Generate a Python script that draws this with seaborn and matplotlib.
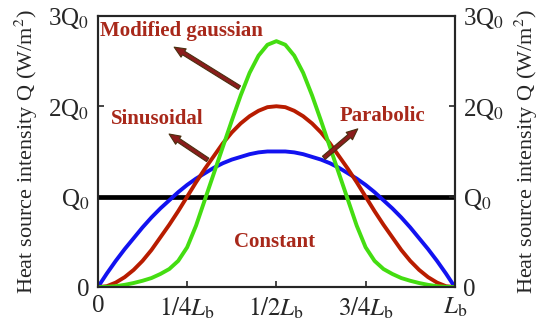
import seaborn as sns, matplotlib.pyplot as plt
import pandas as pd

# position along the weld (fraction of L_b)
x_pos = [0.0, 0.025, 0.05, 0.075, 0.1, 0.125, 0.15, 0.175, 0.2, 0.225, 0.25,
         0.275, 0.3, 0.325, 0.35, 0.375, 0.4, 0.425, 0.45, 0.475, 0.5,
         0.525, 0.55, 0.575, 0.6, 0.625, 0.65, 0.675, 0.7, 0.725, 0.75,
         0.775, 0.8, 0.825, 0.85, 0.875, 0.9, 0.925, 0.95, 0.975, 1.0]

# heat source intensity (multiples of Q0)
parabolic = [0.0, 0.15, 0.29, 0.42, 0.54, 0.66, 0.77, 0.87, 0.96, 1.05, 1.13,
             1.20, 1.26, 1.32, 1.37, 1.41, 1.44, 1.47, 1.49, 1.50, 1.50,
             1.50, 1.49, 1.47, 1.44, 1.41, 1.37, 1.32, 1.26, 1.20, 1.13,
             1.05, 0.96, 0.87, 0.77, 0.66, 0.54, 0.42, 0.29, 0.15, 0.0]
sinusoidal = [0.0, 0.01, 0.05, 0.11, 0.19, 0.29, 0.41, 0.55, 0.69, 0.84, 1.0,
              1.16, 1.31, 1.45, 1.59, 1.71, 1.81, 1.89, 1.95, 1.99, 2.0,
              1.99, 1.95, 1.89, 1.81, 1.71, 1.59, 1.45, 1.31, 1.16, 1.0,
              0.84, 0.69, 0.55, 0.41, 0.29, 0.19, 0.11, 0.05, 0.01, 0.0]
gaussian = [0.0, 0.003, 0.01, 0.025, 0.045, 0.07, 0.10, 0.145, 0.20, 0.29, 0.44,
            0.68, 0.97, 1.26, 1.55, 1.84, 2.12, 2.37, 2.56, 2.68, 2.72,
            2.68, 2.56, 2.37, 2.12, 1.84, 1.55, 1.26, 0.97, 0.68, 0.44,
            0.29, 0.20, 0.145, 0.10, 0.07, 0.045, 0.025, 0.01, 0.003, 0.0]
const_x = [0.0, 1.0]
constant = [1.0, 1.0]

x_ticks = [0, 0.25, 0.5, 0.75, 1.0]
x_labels = ['0', r'$1/4L_{\rm b}$', r'$1/2L_{\rm b}$', r'$3/4L_{\rm b}$', r'$L_{\rm b}$']
y_ticks = [0, 1, 2, 3]
y_labels = ['0', r'Q$_0$', r'2Q$_0$', r'3Q$_0$']

sns.set_style('ticks')
plt.rcParams['font.family'] = ['Liberation Serif', 'DejaVu Serif']
plt.rcParams['mathtext.fontset'] = 'stix'
plt.rcParams['xtick.direction'] = 'in'
plt.rcParams['ytick.direction'] = 'in'

fig = plt.figure(figsize=(5.5, 3.3), dpi=100)
ax = fig.add_axes([0.178, 0.130, 0.649, 0.822])

sns.lineplot(x=const_x, y=constant, color='black', lw=3.4, ax=ax)
sns.lineplot(x=x_pos, y=parabolic, color='#1212f0', lw=2.8, ax=ax)
sns.lineplot(x=x_pos, y=sinusoidal, color='#b81c00', lw=2.8, ax=ax)
sns.lineplot(x=x_pos, y=gaussian, color='#44dd11', lw=2.8, ax=ax)

ax.set_xlim(0, 1)
ax.set_ylim(0, 3)
ax.set_xticks(x_ticks)
ax.set_xticklabels(x_labels, fontsize=18)
ax.set_yticks(y_ticks)
ax.set_yticklabels(y_labels, fontsize=18)
ax.tick_params(length=4, width=1.2, pad=6)
ax.set_ylabel('Heat source intensity Q (W/m$^2$)', fontsize=16, labelpad=6)
for s in ax.spines.values():
    s.set_linewidth(1.5)

ax2 = ax.twinx()
ax2.set_ylim(0, 3)
ax2.set_yticks(y_ticks)
ax2.set_yticklabels(y_labels, fontsize=18)
ax2.tick_params(length=4, width=1.2, pad=6, direction='in')
ax2.set_ylabel('Heat source intensity Q (W/m$^2$)', fontsize=16, labelpad=6)
for s in ax2.spines.values():
    s.set_linewidth(1.5)

lab_col = '#a8281a'
arrow = dict(arrowstyle='simple,head_width=0.7,head_length=0.8,tail_width=0.3',
             fc='#8b1c1c', ec='#4a3010', lw=0.8)
ax.annotate('', xy=(0.207, 2.67), xytext=(0.403, 2.19), arrowprops=arrow)
ax.annotate('', xy=(0.193, 1.71), xytext=(0.314, 1.39), arrowprops=arrow)
ax.annotate('', xy=(0.734, 1.77), xytext=(0.627, 1.41), arrowprops=arrow)

ax.text(0.235, 2.83, 'Modified gaussian', color=lab_col, fontsize=15,
        fontweight='bold', ha='center', va='center')
ax.text(0.165, 1.86, 'Sinusoidal', color=lab_col, fontsize=15,
        fontweight='bold', ha='center', va='center')
ax.text(0.798, 1.89, 'Parabolic', color=lab_col, fontsize=15,
        fontweight='bold', ha='center', va='center')
ax.text(0.496, 0.5, 'Constant', color=lab_col, fontsize=15,
        fontweight='bold', ha='center', va='center')

fig.savefig('out.png', dpi=100)
